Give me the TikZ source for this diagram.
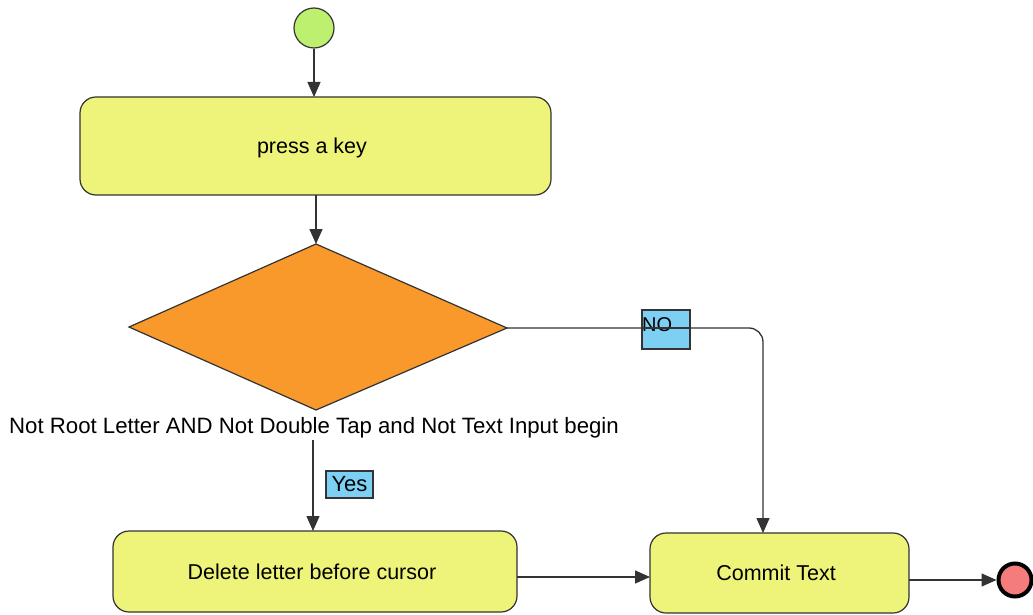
\documentclass[tikz,border=0pt]{standalone}
\usepackage{fontspec}
\setmainfont{Liberation Sans}
\usetikzlibrary{arrows.meta,shapes.geometric}
\definecolor{boxfill}{HTML}{EEF37A}
\definecolor{startfill}{HTML}{BDF06E}
\definecolor{diafill}{HTML}{F9992B}
\definecolor{endfill}{HTML}{F47C7C}
\definecolor{lblfill}{HTML}{7DD0F4}
\definecolor{edge}{HTML}{333333}
\tikzset{
  act/.style={draw=edge, line width=1.2pt, fill=boxfill, rounded corners=16pt},
  txt/.style={font=\fontsize{21.5}{24}\selectfont, inner sep=0pt},
  conn/.style={draw=edge, line width=1.3pt, -{Triangle[length=15pt,width=13pt]}},
  tag/.style={draw=edge, line width=1.2pt, fill=lblfill, inner sep=0pt},
}
\begin{document}
\begin{tikzpicture}[x=1pt,y=-1pt]
\useasboundingbox (0,0) rectangle (1033,615);
% start
\node[circle, draw=edge, line width=1.2pt, fill=startfill, minimum size=40pt, inner sep=0pt] (start) at (314,28) {};
% press a key
\path[act] (80,97) rectangle (551,195);
\node[txt] (press) at (312,148) {press a key};
\coordinate (pressN) at (314,97);
\coordinate (pressS) at (316,195);
% diamond
\path[draw=edge, line width=1.2pt, fill=diafill] (316,244) -- (507,328) -- (316,410) -- (129,327) -- cycle;
\coordinate (diaN) at (316,244);
\coordinate (diaE) at (507,328);
\coordinate (diaS) at (313,440);
\node[txt, font=\fontsize{22.2}{24}\selectfont] (cond) at (314,428) {Not Root Letter AND Not Double Tap and Not Text Input begin};
% delete
\path[act] (113,531) rectangle (517,612);
\node[txt] (del) at (312,572) {Delete letter before cursor};
\coordinate (delN) at (313,531);
\coordinate (delE) at (517,577);
% commit
\path[act] (650,533) rectangle (909,613);
\node[txt] (commit) at (776,573) {Commit Text};
\coordinate (comW) at (650,577);
\coordinate (comN) at (763,533);
\coordinate (comE) at (909,580);
% end
\node[circle, draw=black, line width=4pt, fill=endfill, minimum size=33pt, inner sep=0pt] (end) at (1015,580) {};
% connectors
\draw[conn] (start) -- (pressN);
\draw[conn] (pressS) -- (diaN);
\draw[conn] (diaS) -- (delN);
\draw[conn] (delE) -- (comW);
\draw[conn] (comE) -- (end.west);
\draw[conn, rounded corners=14pt] (diaE) -- (763,328) -- (comN);
% labels
\node[tag, minimum width=48pt, minimum height=39pt] (nobox) at (666,329.5) {};
\node[font=\fontsize{20}{22}\selectfont, anchor=west, inner sep=0pt] (no) at (642,325) {NO};
\draw[edge, line width=1.3pt] (642,328) -- (690,328);
\node[tag, minimum width=47pt, minimum height=27pt, font=\fontsize{22}{24}\selectfont] (yes) at (349.5,484.5) {Yes};
\end{tikzpicture}
\end{document}
